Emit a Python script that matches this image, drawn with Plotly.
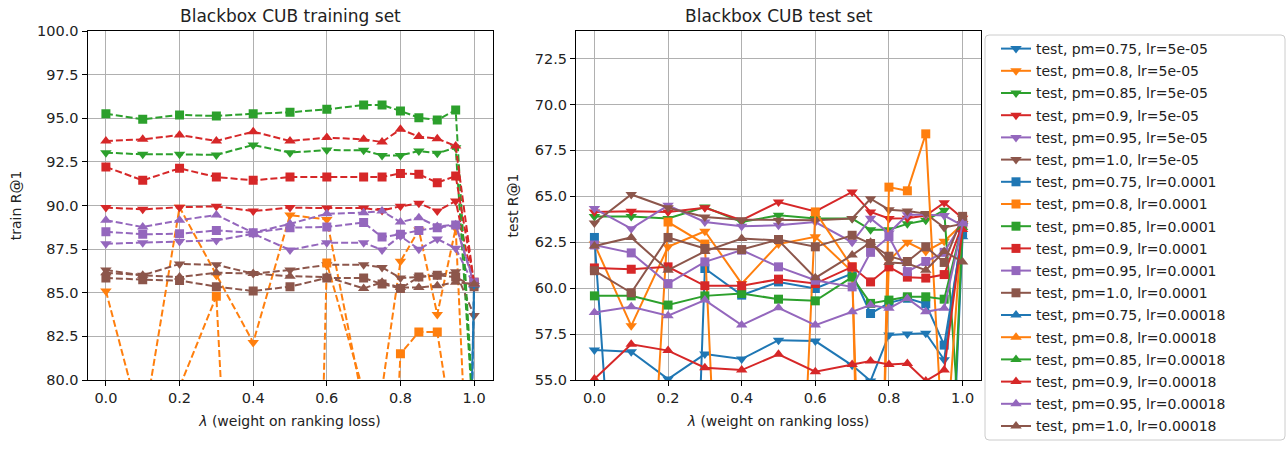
import plotly.graph_objects as go

lam = [0.0, 0.1, 0.2, 0.3, 0.4, 0.5, 0.6, 0.7, 0.75, 0.8, 0.85, 0.9, 0.95, 1.0]

pms = ["0.75", "0.8", "0.85", "0.9", "0.95", "1.0"]
lrs = ["5e-05", "0.0001", "0.00018"]
colors = ["#1f77b4", "#ff7f0e", "#2ca02c", "#d62728", "#9467bd", "#8c564b"]
symbols = ["triangle-down", "square", "triangle-up"]

# ---------------- training set (dashed) ----------------
train_075_5e5 = [38.2, 41.5, 36.9, 44.0, 40.3, 39.1, 42.6, 37.8, 35.5, 40.9, 43.2, 38.7, 36.4, 85.4]
train_075_1e4 = [31.5, 35.2, 29.8, 33.6, 36.1, 30.4, 34.7, 32.9, 28.6, 31.1, 35.8, 33.3, 30.2, 85.5]
train_075_18e5 = [25.4, 28.9, 26.3, 27.7, 24.8, 29.5, 26.1, 28.2, 25.9, 27.3, 24.6, 26.8, 28.7, 85.45]
train_08_5e5 = [85.1, 77.1, 89.9, 86.0, 82.15, 89.45, 89.2, 78.5, 79.5, 86.8, 88.6, 83.76, 88.7, 66.0]
train_08_1e4 = [79.0, 78.6, 79.6, 84.8, 44.0, 5.0, 86.7, 79.3, 60.0, 81.5, 82.75, 82.75, 75.9, 58.0]
train_08_18e5 = [35.2, 38.7, 33.1, 36.9, 40.4, 34.6, 37.3, 39.8, 32.5, 36.1, 38.2, 34.9, 37.6, 33.8]
train_085_5e5 = [93.03, 92.93, 92.93, 92.90, 93.47, 93.03, 93.18, 93.16, 92.87, 92.87, 93.12, 92.99, 93.31, 77.0]
train_085_1e4 = [95.26, 94.94, 95.19, 95.13, 95.26, 95.34, 95.51, 95.76, 95.76, 95.42, 95.03, 94.90, 95.47, 77.5]
train_085_18e5 = [41.0, 44.3, 39.6, 42.8, 45.1, 40.2, 43.7, 38.9, 41.6, 44.8, 39.3, 42.1, 40.7, 37.4]
train_09_5e5 = [89.88, 89.78, 89.90, 89.95, 89.68, 89.88, 89.85, 89.85, 89.72, 89.95, 90.13, 89.68, 90.26, 85.3]
train_09_1e4 = [92.21, 91.44, 92.13, 91.63, 91.44, 91.63, 91.63, 91.63, 91.63, 91.84, 91.79, 91.31, 91.69, 85.6]
train_09_18e5 = [93.70, 93.79, 94.04, 93.70, 94.23, 93.70, 93.89, 93.79, 93.64, 94.37, 93.95, 93.83, 93.41, 85.5]
train_095_5e5 = [87.81, 87.87, 87.93, 88.00, 88.38, 87.45, 87.87, 87.87, 87.45, 88.25, 87.49, 88.08, 87.55, 85.4]
train_095_1e4 = [88.50, 88.35, 88.38, 88.57, 88.44, 88.73, 88.77, 89.02, 88.19, 88.35, 88.57, 88.73, 88.88, 85.6]
train_095_18e5 = [89.15, 88.77, 89.15, 89.46, 88.44, 88.95, 89.53, 89.59, 89.68, 89.05, 89.30, 88.80, 88.90, 85.5]
train_10_5e5 = [86.3, 86.0, 86.65, 86.6, 86.1, 86.3, 86.6, 86.6, 86.45, 85.85, 85.9, 86.0, 86.2, 83.7]
train_10_1e4 = [85.85, 85.75, 85.7, 85.35, 85.1, 85.35, 85.85, 85.85, 85.5, 85.25, 85.9, 86.0, 85.9, 85.35]
train_10_18e5 = [86.15, 86.0, 85.9, 86.15, 86.1, 85.95, 85.9, 85.25, 85.6, 85.3, 85.3, 85.4, 85.6, 85.5]

# ---------------- test set (solid) ----------------
test_075_5e5 = [56.63, 56.54, 55.05, 56.41, 56.14, 57.17, 57.12, 55.8, 54.95, 57.45, 57.5, 57.55, 56.1, 63.4]
test_075_1e4 = [62.76, 24.0, 5.0, 61.07, 59.62, 60.34, 59.98, 60.8, 58.62, 59.2, 59.45, 59.15, 56.9, 63.0]
test_075_18e5 = [38.5, 41.2, 36.8, 40.6, 43.9, 39.3, 42.4, 37.6, 40.1, 44.5, 38.2, 41.7, 39.8, 62.8]
test_08_5e5 = [62.4, 57.95, 62.25, 63.1, 60.25, 62.4, 62.8, 60.9, 30.0, 61.5, 62.5, 62.0, 62.55, 63.5]
test_08_1e4 = [35.0, 30.0, 63.6, 62.4, 19.0, 20.0, 64.15, 61.15, 20.0, 65.5, 65.3, 68.4, 50.0, 63.8]
test_08_18e5 = [33.4, 36.8, 31.9, 35.2, 38.6, 32.7, 34.9, 37.3, 30.8, 35.6, 33.9, 36.4, 32.2, 34.7]
test_085_5e5 = [63.9, 63.9, 63.79, 64.42, 63.6, 63.97, 63.79, 63.79, 63.18, 63.18, 63.5, 63.7, 64.24, 50.0]
test_085_1e4 = [59.58, 59.58, 59.08, 59.58, 59.71, 59.4, 59.31, 60.6, 59.17, 59.35, 59.53, 59.53, 59.4, 63.5]
test_085_18e5 = [42.3, 45.7, 40.9, 44.1, 46.8, 41.5, 43.6, 39.8, 42.9, 45.2, 40.4, 43.3, 41.1, 63.3]
test_09_5e5 = [64.15, 64.19, 64.15, 64.38, 63.7, 64.69, 64.18, 65.24, 64.15, 63.79, 63.8, 63.95, 64.65, 63.8]
test_09_1e4 = [61.1, 61.03, 61.16, 60.13, 60.13, 60.49, 60.25, 61.16, 60.34, 61.16, 60.6, 60.55, 60.74, 63.5]
test_09_18e5 = [55.05, 56.94, 56.6, 55.67, 55.54, 56.4, 55.45, 55.85, 56.03, 55.85, 55.9, 54.95, 55.54, 63.2]
test_095_5e5 = [64.33, 63.24, 64.51, 63.6, 63.37, 63.42, 63.6, 62.5, 63.8, 63.0, 64.0, 64.0, 63.95, 63.4]
test_095_1e4 = [62.35, 61.92, 60.25, 61.43, 62.07, 61.16, 60.43, 60.07, 61.95, 62.8, 60.9, 61.45, 61.95, 63.6]
test_095_18e5 = [58.68, 58.99, 58.5, 59.35, 57.99, 58.93, 57.99, 58.71, 59.08, 58.9, 59.44, 58.71, 58.9, 63.5]
test_10_5e5 = [63.55, 65.1, 64.38, 63.88, 63.73, 63.7, 63.7, 63.79, 64.87, 64.27, 64.2, 64.06, 63.3, 63.5]
test_10_1e4 = [60.95, 59.75, 62.76, 62.16, 62.1, 62.65, 62.25, 62.88, 62.43, 61.74, 61.45, 62.25, 61.4, 63.91]
test_10_18e5 = [62.3, 62.76, 60.98, 62.0, 62.7, 62.6, 60.56, 61.8, 62.5, 61.4, 61.34, 60.98, 62.0, 61.43]

train_series = [
    [train_075_5e5, train_08_5e5, train_085_5e5, train_09_5e5, train_095_5e5, train_10_5e5],
    [train_075_1e4, train_08_1e4, train_085_1e4, train_09_1e4, train_095_1e4, train_10_1e4],
    [train_075_18e5, train_08_18e5, train_085_18e5, train_09_18e5, train_095_18e5, train_10_18e5],
]
test_series = [
    [test_075_5e5, test_08_5e5, test_085_5e5, test_09_5e5, test_095_5e5, test_10_5e5],
    [test_075_1e4, test_08_1e4, test_085_1e4, test_09_1e4, test_095_1e4, test_10_1e4],
    [test_075_18e5, test_08_18e5, test_085_18e5, test_09_18e5, test_095_18e5, test_10_18e5],
]

FONT = "DejaVu Sans"
fig = go.Figure()

for li, lr in enumerate(lrs):
    for pi, pm in enumerate(pms):
        msize = 9 if symbols[li] == "square" else 10
        fig.add_trace(go.Scatter(
            x=lam, y=train_series[li][pi], mode="lines+markers",
            xaxis="x", yaxis="y", showlegend=False,
            line=dict(color=colors[pi], width=2, dash="7px,3px"),
            marker=dict(symbol=symbols[li], size=msize, color=colors[pi]),
            name=f"train, pm={pm}, lr={lr}",
        ))

for li, lr in enumerate(lrs):
    for pi, pm in enumerate(pms):
        msize = 9 if symbols[li] == "square" else 10
        fig.add_trace(go.Scatter(
            x=lam, y=test_series[li][pi], mode="lines+markers",
            xaxis="x2", yaxis="y2",
            legendgroup=f"g{li}{pi}",
            line=dict(color=colors[pi], width=2),
            marker=dict(symbol=symbols[li], size=msize, color=colors[pi]),
            name=f"test, pm={pm}, lr={lr}",
        ))

axis_common = dict(
    showgrid=True, gridcolor="#b0b0b0", gridwidth=1, automargin=False,
    showline=True, linecolor="black", linewidth=1, mirror=True,
    ticks="outside", ticklen=5, tickcolor="black", tickwidth=1,
    zeroline=False, tickfont=dict(family=FONT, size=14.5, color="#222"),
)

W, H = 1288, 449
T, B = 31, 69
PH = H - T - B


def px_x(p):
    return p / W


def px_y(p):
    return 1 - (p - T) / PH


# rounded legend frame (matplotlib style)
x0, x1, y0, y1, r = 985, 1285, 35, 440, 4
frame_path = (
    f"M {px_x(x0 + r)} {px_y(y0)} L {px_x(x1 - r)} {px_y(y0)} "
    f"Q {px_x(x1)} {px_y(y0)} {px_x(x1)} {px_y(y0 + r)} "
    f"L {px_x(x1)} {px_y(y1 - r)} Q {px_x(x1)} {px_y(y1)} {px_x(x1 - r)} {px_y(y1)} "
    f"L {px_x(x0 + r)} {px_y(y1)} Q {px_x(x0)} {px_y(y1)} {px_x(x0)} {px_y(y1 - r)} "
    f"L {px_x(x0)} {px_y(y0 + r)} Q {px_x(x0)} {px_y(y0)} {px_x(x0 + r)} {px_y(y0)} Z"
)

fig.update_layout(
    width=W, height=H,
    margin=dict(l=0, r=0, t=T, b=B),
    paper_bgcolor="white", plot_bgcolor="white",
    font=dict(family=FONT, size=14, color="#222"),
    xaxis=dict(domain=[87.5 / W, 492.5 / W], range=[-0.05, 1.05], tickvals=[0, 0.2, 0.4, 0.6, 0.8, 1.0],
               tickformat=".1f", title=dict(text="<i>λ</i> (weight on ranking loss)", font=dict(size=14), standoff=10),
               anchor="y", **axis_common),
    yaxis=dict(domain=[0, 1], range=[80, 100], dtick=2.5, tick0=80, tickformat=".1f",
               title=dict(text="train R@1", font=dict(size=14), standoff=12), anchor="x", **axis_common),
    xaxis2=dict(domain=[576 / W, 981 / W], range=[-0.05, 1.05], tickvals=[0, 0.2, 0.4, 0.6, 0.8, 1.0],
                tickformat=".1f", title=dict(text="<i>λ</i> (weight on ranking loss)", font=dict(size=14), standoff=10),
                anchor="y2", **axis_common),
    yaxis2=dict(domain=[0, 1], range=[55, 74], dtick=2.5, tick0=55, tickformat=".1f",
                title=dict(text="test R@1", font=dict(size=14), standoff=12), anchor="x2", **axis_common),
    legend=dict(x=996 / W, y=px_y(33), xanchor="left", yanchor="top",
                borderwidth=0, bgcolor="rgba(0,0,0,0)",
                font=dict(family=FONT, size=14, color="#222"), tracegroupgap=1, maxheight=445),
    shapes=[dict(type="path", path=frame_path, xref="paper", yref="paper",
                 line=dict(color="#cccccc", width=1), fillcolor="white", layer="below")],
    annotations=[
        dict(text="Blackbox CUB training set", x=(87.5 + 492.5) / 2 / W, y=1, xref="paper", yref="paper",
             xanchor="center", yanchor="bottom", yshift=3, showarrow=False, font=dict(size=17, family=FONT, color="#222")),
        dict(text="Blackbox CUB test set", x=(576 + 981) / 2 / W, y=1, xref="paper", yref="paper",
             xanchor="center", yanchor="bottom", yshift=3, showarrow=False, font=dict(size=17, family=FONT, color="#222")),
    ],
)

fig.write_html("out.html", config={"displayModeBar": False},
               post_script="document.body.style.margin='0px';")
